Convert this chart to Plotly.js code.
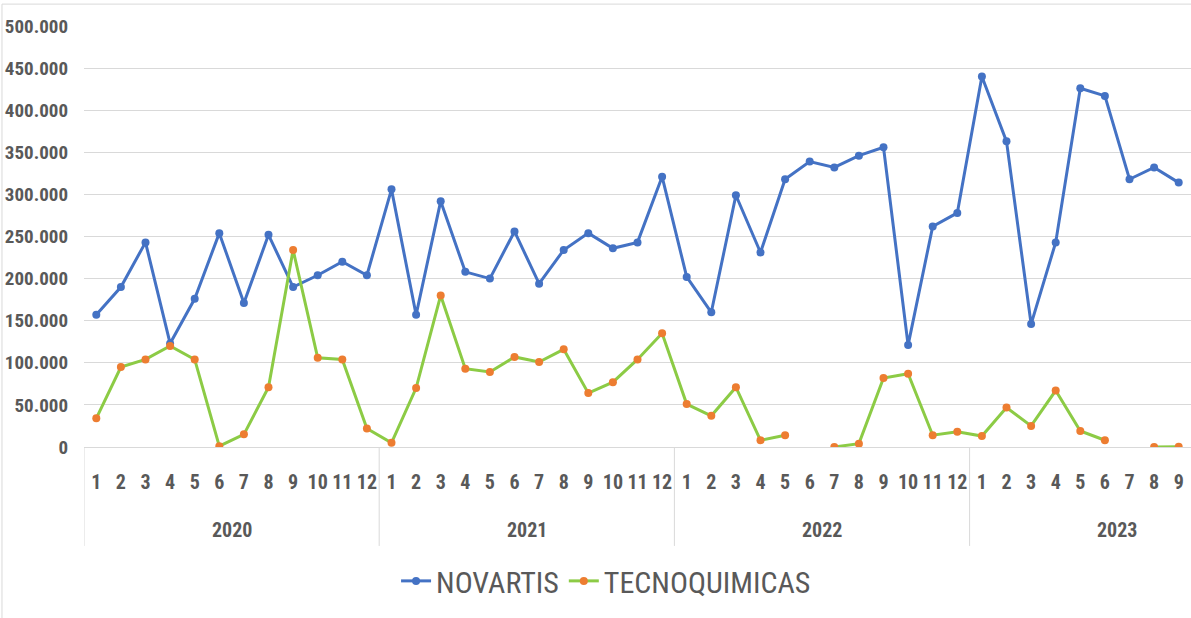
<!DOCTYPE html>
<html>
<head>
<meta charset="utf-8">
<script src="https://cdn.plot.ly/plotly-3.0.1.min.js"></script>
<style>
html,body{margin:0;padding:0;background:#fff;}
#chart{width:1191px;height:618px;}
</style>
</head>
<body>
<div id="chart"></div>
<script>
var years = [2020, 2021, 2022, 2023];
var monthsPerYear = [12, 12, 12, 9];

var novartis = [157000,190000,243000,123000,176000,254000,171000,252000,190000,204000,220000,204000,
                306000,157000,292000,208000,200000,256000,194000,234000,254000,236000,243000,321000,
                202000,160000,299000,231000,318000,339000,332000,346000,356000,121000,262000,278000,
                440000,363000,146000,243000,426000,417000,318000,332000,314000];

var tecnoquimicas = [34000,95000,104000,120000,104000,1000,15000,71000,234000,106000,104000,22000,
                     5000,70000,180000,93000,89000,107000,101000,116000,64000,77000,104000,135000,
                     51000,37000,71000,8000,14000,null,0,4000,82000,87000,14000,18000,
                     13000,47000,25000,67000,19000,8000,null,0,400];

var yTicks = [0,50000,100000,150000,200000,250000,300000,350000,400000,450000,500000];

// build index positions and month labels from the period arrays
var xIdx = [], monthLabels = [], groupStart = [];
var k = 0;
for (var g = 0; g < years.length; g++) {
  groupStart.push(k);
  for (var m = 1; m <= monthsPerYear[g]; m++) { xIdx.push(k); monthLabels.push(String(m)); k++; }
}

var textFont = "'Liberation Sans Narrow', 'Arial Narrow', 'Roboto Condensed', 'DejaVu Sans Condensed', sans-serif";
var gray = '#595959';

var traces = [
  {x: xIdx, y: novartis, name: 'NOVARTIS', type: 'scatter', mode: 'lines+markers',
   line: {color: '#4472C4', width: 3}, marker: {color: '#4472C4', size: 8}},
  {x: xIdx, y: tecnoquimicas, name: 'TECNOQUIMICAS', type: 'scatter', mode: 'lines+markers',
   connectgaps: false,
   line: {color: '#8CCB45', width: 3}, marker: {color: '#ED7D31', size: 8}}
];

var annotations = [], shapes = [];
for (var g = 0; g < years.length; g++) {
  var full = groupStart[g] + 11;
  annotations.push({x: (groupStart[g] + full) / 2, xref: 'x', y: -0.197, yref: 'paper',
    text: String(years[g]), showarrow: false, xanchor: 'center', yanchor: 'middle',
    font: {family: textFont, size: 20, color: gray, weight: 'bold'}});
  shapes.push({type: 'line', xref: 'x', yref: 'paper', x0: groupStart[g] - 0.5, x1: groupStart[g] - 0.5,
    y0: 0, y1: -0.235, line: {color: '#d9d9d9', width: 1}});
}
// outer chart border
shapes.push({type: 'rect', xref: 'paper', yref: 'paper', x0: -0.0741, x1: 1.2, y0: -0.5, y1: 1.052,
  line: {color: '#d9d9d9', width: 1}, layer: 'below'});

var layout = {
  width: 1191, height: 618,
  margin: {l: 84, r: 0, t: 26, b: 171},
  paper_bgcolor: '#ffffff', plot_bgcolor: '#ffffff',
  separators: ',.',
  showlegend: true,
  legend: {orientation: 'h', x: 0.4716, xanchor: 'center', y: -0.318, yanchor: 'middle',
    font: {family: textFont, size: 30, color: gray}, itemwidth: 30, traceorder: 'normal'},
  xaxis: {range: [-0.5, 44.5], tickmode: 'array', tickvals: xIdx, ticktext: monthLabels,
    showgrid: false, zeroline: false, showline: true, linecolor: '#d9d9d9', linewidth: 1,
    ticks: '', ticklabelstandoff: 17, tickangle: 0,
    tickfont: {family: textFont, size: 20, color: gray, weight: 'bold'}, fixedrange: true},
  yaxis: {range: [0, 500000], tickmode: 'array', tickvals: yTicks, tickformat: ',.0f',
    showgrid: true, gridcolor: '#d9d9d9', gridwidth: 1, zeroline: false, showline: false,
    ticks: '', ticklabelstandoff: 15,
    tickfont: {family: textFont, size: 19, color: gray, weight: 'bold'}, fixedrange: true},
  annotations: annotations,
  shapes: shapes
};

Plotly.newPlot('chart', traces, layout, {displayModeBar: false, staticPlot: true});
</script>
</body>
</html>
